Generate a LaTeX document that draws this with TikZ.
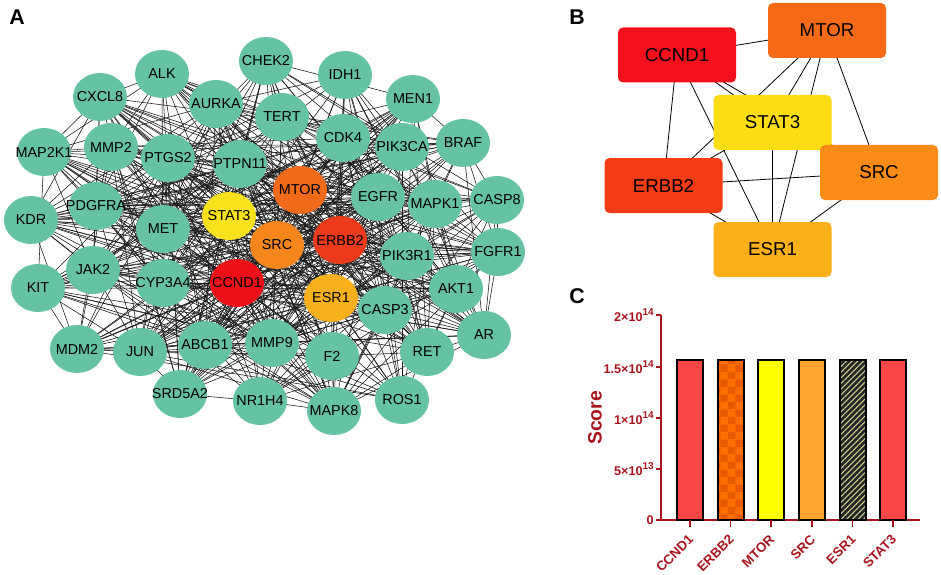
\documentclass[tikz,border=0pt]{standalone}
\usepackage{fontspec}
\setmainfont{Liberation Sans}
\usetikzlibrary{shapes.geometric,backgrounds,patterns,patterns.meta}
\definecolor{gteal}{HTML}{66C2A5}
\definecolor{aSTAT}{HTML}{F9E11B}
\definecolor{aMTOR}{HTML}{F06A1A}
\definecolor{aSRC}{HTML}{F5861C}
\definecolor{aERBB}{HTML}{EC3A1C}
\definecolor{aCCND}{HTML}{EE1018}
\definecolor{aESR}{HTML}{F8B01C}
\definecolor{bSTAT}{HTML}{FCDD14}
\definecolor{bMTOR}{HTML}{F56A17}
\definecolor{bSRC}{HTML}{FA8B17}
\definecolor{bERBB}{HTML}{F23C15}
\definecolor{bCCND}{HTML}{F30F1B}
\definecolor{bESR}{HTML}{FBB01A}
\definecolor{axc}{HTML}{A8141E}
\definecolor{cRed}{HTML}{FA4646}
\definecolor{cOrange}{HTML}{FF6E00}
\definecolor{cOrangeDk}{HTML}{E85A00}
\definecolor{cYellow}{HTML}{FFFF00}
\definecolor{cSRC}{HTML}{FFA52D}
\definecolor{cHatch}{HTML}{CCCC8C}
\tikzset{
  gene/.style={ellipse, fill=gteal, minimum width=40.5pt, minimum height=36pt, inner sep=0pt, font=\fontsize{10.8}{12}\selectfont},
  aedge/.style={line width=0.42pt, black!90},
  bbox/.style={rectangle, rounded corners=3.75pt, minimum width=88.5pt, minimum height=41.25pt, inner sep=0pt, font=\fontsize{14}{16}\selectfont},
  bedge/.style={line width=0.6pt, black},
  panel/.style={font=\fontsize{16}{18}\selectfont\bfseries},
  axis/.style={axc, line width=1.3pt},
  ticklab/.style={axc, anchor=east, inner sep=0pt, font=\fontsize{9.5}{10}\selectfont\bfseries},
  xlab/.style={axc, anchor=east, inner sep=0pt, rotate=45, font=\fontsize{10}{11}\selectfont\bfseries},
  bar/.style={draw=black, line width=1.5pt}
}
\newcommand\gn[4][gteal]{\node[gene, fill=#1] (#2) at (#3) {\makebox[0pt]{#4}};}
\newcommand\supx[1]{\raisebox{0.45em}{\fontsize{7.5}{7.5}\selectfont #1}}
\begin{document}
\begin{tikzpicture}[x=0.75pt,y=-0.75pt]
\useasboundingbox (0,0) rectangle (941,574);
% ---------------- Panel A ----------------
\node[panel] (labA) at (17,17) {A};
\gn{ALK}{162,74}{ALK}
\gn{CHEK2}{266,61}{CHEK2}
\gn{IDH1}{345,75}{IDH1}
\gn{MEN1}{413,99}{MEN1}
\gn{CXCL8}{100,97}{CXCL8}
\gn{AURKA}{216,104}{AURKA}
\gn{TERT}{282,117}{TERT}
\gn{CDK4}{343,138}{CDK4}
\gn{PIK3CA}{402,147}{PIK3CA}
\gn{BRAF}{463,143}{BRAF}
\gn{MAP2K1}{44,152}{MAP2K1}
\gn{MMP2}{111,147}{MMP2}
\gn{PTGS2}{168,158}{PTGS2}
\gn{PTPN11}{240,164}{PTPN11}
\gn[aMTOR]{MTOR}{300,190}{MTOR}
\gn{EGFR}{378,197}{EGFR}
\gn{MAPK1}{435,204}{MAPK1}
\gn{CASP8}{497,200}{CASP8}
\gn{KDR}{31,220}{KDR}
\gn{PDGFRA}{96,206}{PDGFRA}
\gn{MET}{163,229}{MET}
\gn[aSTAT]{STAT3}{229,216}{STAT3}
\gn[aSRC]{SRC}{277,245}{SRC}
\gn[aERBB]{ERBB2}{340,240}{ERBB2}
\gn{PIK3R1}{407,256}{PIK3R1}
\gn{FGFR1}{498,252}{FGFR1}
\gn{JAK2}{93,270}{JAK2}
\gn{KIT}{38,288}{KIT}
\gn{CYP3A4}{163,283}{CYP3A4}
\gn[aCCND]{CCND1}{237,283}{CCND1}
\gn[aESR]{ESR1}{331,298}{ESR1}
\gn{CASP3}{385,310}{CASP3}
\gn{AKT1}{456,289}{AKT1}
\gn{AR}{484,335}{AR}
\gn{MDM2}{77,349}{MDM2}
\gn{JUN}{140,352}{JUN}
\gn{ABCB1}{205,345}{ABCB1}
\gn{MMP9}{272,343}{MMP9}
\gn{F2}{332,356}{F2}
\gn{RET}{427,352}{RET}
\gn{SRD5A2}{180,394}{SRD5A2}
\gn{NR1H4}{260,401}{NR1H4}
\gn{MAPK8}{334,411}{MAPK8}
\gn{ROS1}{402,400}{ROS1}
\def\genelist{STAT3/1,MTOR/1,SRC/1,ERBB2/1,CCND1/1,ESR1/1,EGFR/0.95,AKT1/0.9,PIK3CA/0.9,JUN/0.85,MAPK1/0.85,CASP3/0.85,MAPK8/0.8,MET/0.8,PTGS2/0.8,MMP9/0.8,KDR/0.75,JAK2/0.8,MAP2K1/0.75,MMP2/0.75,PDGFRA/0.75,PIK3R1/0.8,CDK4/0.75,PTPN11/0.75,TERT/0.65,AURKA/0.7,ALK/0.7,CHEK2/0.6,IDH1/0.6,MEN1/0.5,CXCL8/0.65,BRAF/0.7,CASP8/0.7,FGFR1/0.7,KIT/0.7,CYP3A4/0.75,AR/0.7,MDM2/0.75,ABCB1/0.7,F2/0.65,RET/0.7,SRD5A2/0.5,NR1H4/0.55,ROS1/0.6}
\pgfmathsetseed{7}
\begin{pgfonlayer}{background}
\foreach \a/\wa [count=\i] in \genelist {
  \foreach \b/\wb [count=\j] in \genelist {
    \ifnum\j>\i\relax
      \pgfmathsetmacro\r{rnd}
      \pgfmathtruncatemacro\ok{(\r<\wa*\wb)?1:0}
      \ifnum\ok=1\relax \draw[aedge] (\a.center) -- (\b.center); \fi
    \fi
  }
}
\end{pgfonlayer}
% ---------------- Panel B ----------------
\node[panel] (labB) at (577,17) {B};
\node[bbox, fill=bCCND] (bCCND1) at (677,55) {CCND1};
\node[bbox, fill=bMTOR] (bMTOR) at (827,30.5) {MTOR};
\node[bbox, fill=bSTAT] (bSTAT3) at (772.5,122.5) {STAT3};
\node[bbox, fill=bERBB] (bERBB2) at (663.5,185.5) {ERBB2};
\node[bbox, fill=bSRC] (bSRC) at (879,172.5) {SRC};
\node[bbox, fill=bESR] (bESR1) at (772.5,249.5) {ESR1};
\begin{pgfonlayer}{background}
\foreach \p/\q in {bCCND1/bMTOR,bCCND1/bSTAT3,bCCND1/bSRC,bCCND1/bERBB2,bCCND1/bESR1,bMTOR/bSTAT3,bMTOR/bERBB2,bMTOR/bESR1,bMTOR/bSRC,bSTAT3/bERBB2,bSTAT3/bESR1,bERBB2/bSRC,bERBB2/bESR1,bSRC/bESR1}
  \draw[bedge] (\p.center) -- (\q.center);
\end{pgfonlayer}
% ---------------- Panel C ----------------
\node[panel] (labC) at (577,296) {C};
\coordinate (ytop) at (661,315);
\coordinate (orig) at (661,520);
\coordinate (xend) at (920,520);
\draw[axis] (ytop) -- (orig) -- (xend);
\foreach \yy/\lab in {315/{2×10\supx{14}},367/{1.5×10\supx{14}},418/{1×10\supx{14}},469/{5×10\supx{13}},520/{0}} {
  \draw[axis] (656,\yy) -- (661,\yy);
  \node[ticklab] at (654,\yy) {\lab};
}
\node[axc, rotate=90, font=\fontsize{14.5}{16}\selectfont\bfseries] (score) at (595,418) {Score};
% bars
\draw[bar, fill=cRed] (677,520) rectangle (703,360);
\draw[bar, preaction={fill=cOrange}, pattern=checkerboard, pattern color=cOrangeDk] (717.5,520) rectangle (743.5,360);
\draw[bar, fill=cYellow] (758,520) rectangle (784,360);
\draw[bar, fill=cSRC] (799,520) rectangle (825,360);
\draw[bar, preaction={fill=black!85}, pattern={Lines[angle=45,distance=3pt,line width=0.8pt]}, pattern color=cHatch] (839.5,520) rectangle (865.5,360);
\draw[bar, fill=cRed] (880,520) rectangle (906,360);
\foreach \xx/\lab in {690/CCND1,730.5/ERBB2,771/MTOR,812/SRC,852.5/ESR1,893/STAT3} {
  \draw[axis] (\xx,520) -- (\xx,527);
  \node[xlab] at (\xx+1,537) {\lab};
}
\end{tikzpicture}
\end{document}
